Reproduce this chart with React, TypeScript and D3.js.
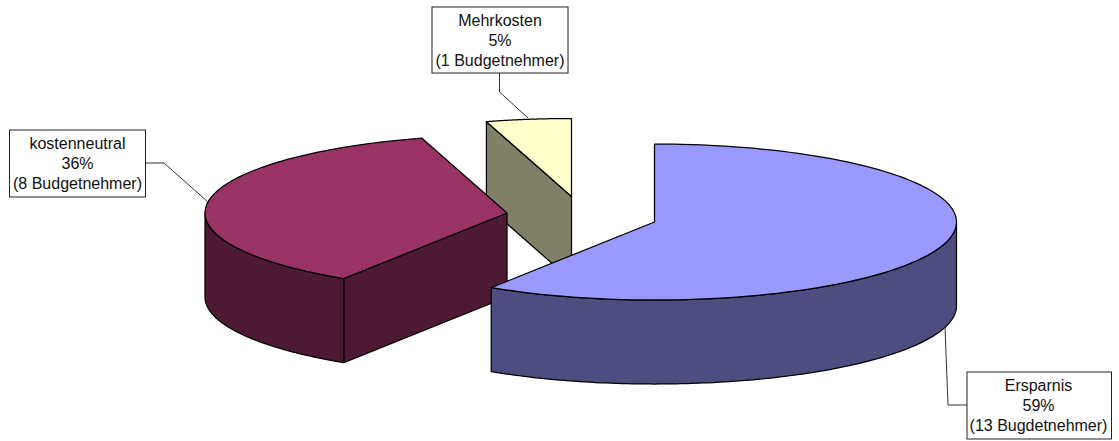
import React from "react";
import * as d3 from "d3";

// Budget holders per outcome, in clockwise order from twelve o'clock.
const categories = ["Ersparnis", "kostenneutral", "Mehrkosten"];
const holderCounts = [13, 8, 1];
const percentLabels = ["59%", "36%", "5%"];
const holderLabels = ["(13 Bugdetnehmer)", "(8 Budgetnehmer)", "(1 Budgetnehmer)"];

const topColors = ["#9999ff", "#993366", "#ffffcc"];
const sideColors = ["#4d4d80", "#4d1933", "#808066"];

const WIDTH = 1119;
const HEIGHT = 441;

// Ellipse of the pie's top face and the height of its extruded wall.
const RX = 302;
const RY = 78;
const DEPTH = 84;

// Exploded pivot of each wedge.
const pivots: [number, number][] = [
  [654.5, 222],
  [507, 213],
  [571.5, 196.5],
];

// Callout box and leader polyline for each wedge.
const callouts = [
  { box: [967, 372, 144.5, 67], textX: 1038.5, leader: [[967, 405], [948, 405], [945, 327]] },
  { box: [9.5, 130, 136, 67], textX: 77.5, leader: [[146, 163], [164, 163], [208, 202]] },
  { box: [432, 7, 136, 66], textX: 500, leader: [[499.5, 73], [499.5, 92], [528, 118]] },
];

const TAU = Math.PI * 2;
const pieLayout = d3.pie<number>().sort(null).startAngle(0).endAngle(TAU);

// Angles are clockwise from twelve o'clock, as d3.pie returns them.
const onRim = (p: [number, number], a: number, dy = 0): [number, number] => [
  p[0] + RX * Math.sin(a),
  p[1] - RY * Math.cos(a) + dy,
];

const rimPoints = (p: [number, number], a0: number, a1: number, dy = 0) =>
  d3.range(0, 121).map((i) => onRim(p, a0 + ((a1 - a0) * i) / 120, dy));

const path = d3.line<[number, number]>();

function Wedge({ index, a0, a1 }: { index: number; a0: number; a1: number }) {
  const p = pivots[index];
  const below: [number, number] = [p[0], p[1] + DEPTH];
  const faces: React.ReactNode[] = [];
  const side = sideColors[index];

  // A cut face shows only when it turns toward the viewer.
  if (a0 > Math.PI && a0 < TAU) {
    const rim = onRim(p, a0);
    const rimLow = onRim(p, a0, DEPTH);
    faces.push(<path key="start" d={path([p, rim, rimLow, below])! + "Z"} fill={side} />);
  }
  if (a1 > 0 && a1 < Math.PI) {
    const rim = onRim(p, a1);
    const rimLow = onRim(p, a1, DEPTH);
    faces.push(<path key="end" d={path([p, rim, rimLow, below])! + "Z"} fill={side} />);
  }

  // The outer wall is visible on the lower half of the ellipse.
  const wall0 = Math.max(a0, Math.PI / 2);
  const wall1 = Math.min(a1, (3 * Math.PI) / 2);
  if (wall1 > wall0) {
    const pts = [
      ...rimPoints(p, wall0, wall1),
      ...rimPoints(p, wall1, wall0, DEPTH),
    ];
    faces.push(<path key="wall" d={path(pts)! + "Z"} fill={side} />);
  }

  const top = [p, ...rimPoints(p, a0, a1)];
  return (
    <g strokeLinejoin="round" stroke="#000" strokeWidth={1.25}>
      {faces}
      <path d={path(top)! + "Z"} fill={topColors[index]} />
    </g>
  );
}

export default function App() {
  const arcs = pieLayout(holderCounts);
  const paintOrder = [2, 1, 0];

  return (
    <svg
      width={WIDTH}
      height={HEIGHT}
      viewBox={`0 0 ${WIDTH} ${HEIGHT}`}
      style={{ position: "absolute", left: 0, top: 0, display: "block", background: "#fff" }}
    >
      {paintOrder.map((i) => (
        <Wedge key={categories[i]} index={i} a0={arcs[i].startAngle} a1={arcs[i].endAngle} />
      ))}
      {callouts.map((c, i) => {
        const [x, y, w, h] = c.box;
        return (
          <g key={categories[i]}>
            <path d={path(c.leader as [number, number][])!} fill="none" stroke="#333" strokeWidth={1} />
            <rect x={x} y={y} width={w} height={h} fill="#fff" stroke="#222" strokeWidth={1} />
            <g
              fontFamily="'Liberation Sans', Arial, sans-serif"
              fontSize={16}
              fill="#111"
              textAnchor="middle"
            >
              <text x={c.textX} y={y + 19}>{categories[i]}</text>
              <text x={c.textX} y={y + 39}>{percentLabels[i]}</text>
              <text x={c.textX} y={y + 59}>{holderLabels[i]}</text>
            </g>
          </g>
        );
      })}
    </svg>
  );
}
